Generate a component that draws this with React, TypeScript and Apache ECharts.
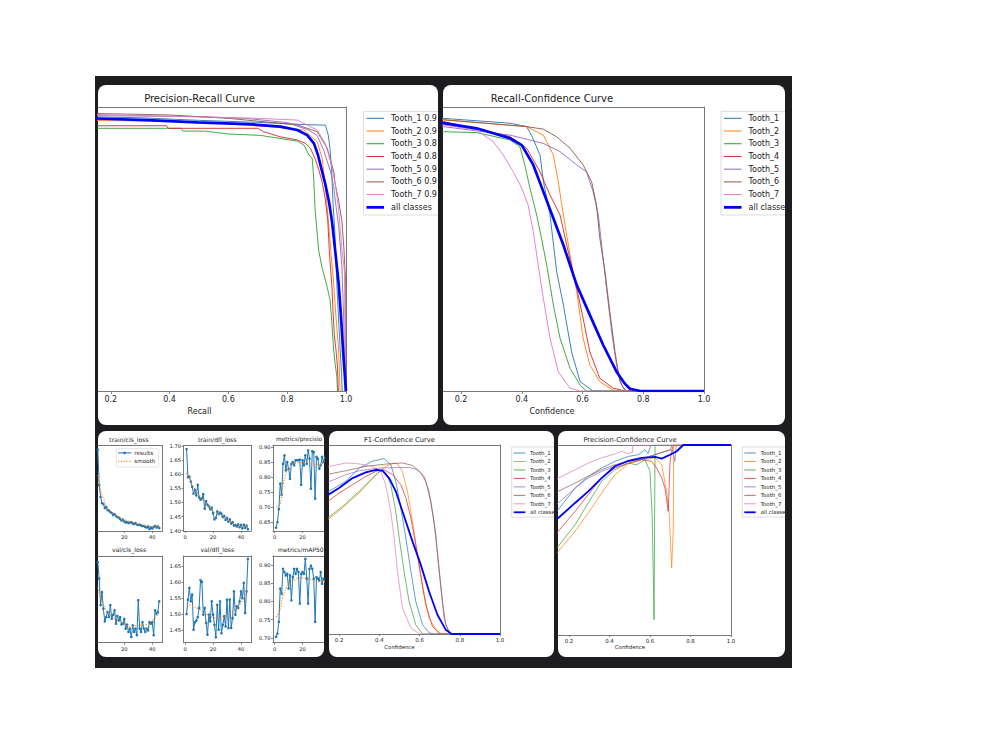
import React, { useEffect, useRef } from "react";
import * as echarts from "echarts";

// ---------------- data ----------------
const CLASS_NAMES = ["Tooth_1", "Tooth_2", "Tooth_3", "Tooth_4", "Tooth_5", "Tooth_6", "Tooth_7"];
const CLASS_COLORS = ["#1f77b4", "#ff7f0e", "#2ca02c", "#d62728", "#9467bd", "#8c564b", "#e377c2"];
const ALL_COLOR = "#0000ff";
const PR_LEGEND = ["Tooth_1 0.9", "Tooth_2 0.9", "Tooth_3 0.8", "Tooth_4 0.8", "Tooth_5 0.9", "Tooth_6 0.9", "Tooth_7 0.9", "all classes"];
const CONF_LEGEND = ["Tooth_1", "Tooth_2", "Tooth_3", "Tooth_4", "Tooth_5", "Tooth_6", "Tooth_7", "all classe"];

const CURVE_TICKS = [0.2, 0.4, 0.6, 0.8, 1.0];
const EPOCH_TICKS_FULL = [0, 20, 40];
const EPOCH_TICKS_LEFT = [20, 40];
const EPOCH_TICKS_RIGHT = [0, 20];
const TRAIN_DFL_TICKS = [1.4, 1.45, 1.5, 1.55, 1.6, 1.65, 1.7];
const PRECISION_TICKS = [0.65, 0.7, 0.75, 0.8, 0.85, 0.9];
const VAL_DFL_TICKS = [1.45, 1.5, 1.55, 1.6, 1.65];
const MAP50_TICKS = [0.7, 0.75, 0.8, 0.85, 0.9];

// Precision-Recall  [recall, precision]
const PR_TOOTH_1 = [[0, 1], [0.1, 0.966], [0.3, 0.962], [0.5, 0.953], [0.7, 0.946], [0.8, 0.941], [0.86, 0.938], [0.93, 0.936], [0.94, 0.9], [0.946, 0.85], [0.952, 0.76], [0.956, 0.66], [0.962, 0.56], [0.966, 0.45], [0.97, 0.35], [0.975, 0.25], [0.98, 0.15], [0.985, 0.06], [0.987, 0]];
const PR_TOOTH_2 = [[0, 1], [0.1, 0.953], [0.4, 0.95], [0.6, 0.94], [0.75, 0.93], [0.857, 0.919], [0.902, 0.878], [0.919, 0.82], [0.93, 0.72], [0.94, 0.6], [0.948, 0.5], [0.958, 0.38], [0.966, 0.26], [0.975, 0.144], [0.98, 0]];
const PR_TOOTH_3 = [[0, 1], [0.1, 0.925], [0.44, 0.925], [0.445, 0.915], [0.52, 0.915], [0.6, 0.905], [0.71, 0.9], [0.74, 0.895], [0.834, 0.88], [0.857, 0.866], [0.874, 0.831], [0.885, 0.82], [0.89, 0.75], [0.895, 0.637], [0.907, 0.496], [0.918, 0.438], [0.935, 0.37], [0.946, 0.32], [0.952, 0.239], [0.958, 0.144], [0.963, 0.097], [0.969, 0.05], [0.971, 0]];
const PR_TOOTH_4 = [[0, 1], [0.1, 0.934], [0.39, 0.934], [0.395, 0.925], [0.7, 0.925], [0.72, 0.913], [0.776, 0.895], [0.834, 0.884], [0.862, 0.872], [0.879, 0.855], [0.896, 0.815], [0.907, 0.78], [0.918, 0.74], [0.929, 0.68], [0.938, 0.6], [0.944, 0.48], [0.952, 0.37], [0.956, 0.28], [0.96, 0.2], [0.966, 0.144], [0.971, 0.086], [0.974, 0]];
const PR_TOOTH_5 = [[0, 1], [0.1, 0.97], [0.5, 0.966], [0.66, 0.96], [0.8, 0.945], [0.87, 0.92], [0.902, 0.9], [0.925, 0.845], [0.948, 0.77], [0.958, 0.72], [0.966, 0.65], [0.975, 0.58], [0.986, 0.44], [0.992, 0.26], [0.995, 0.1], [0.997, 0]];
const PR_TOOTH_6 = [[0, 1], [0.1, 0.978], [0.4, 0.972], [0.6, 0.96], [0.834, 0.937], [0.902, 0.913], [0.936, 0.855], [0.959, 0.77], [0.963, 0.73], [0.975, 0.67], [0.986, 0.6], [0.993, 0.5], [0.999, 0.38], [1.0, 0]];
const PR_TOOTH_7 = [[0, 1], [0.1, 0.975], [0.5, 0.965], [0.7, 0.96], [0.834, 0.954], [0.902, 0.919], [0.93, 0.87], [0.95, 0.8], [0.965, 0.72], [0.975, 0.64], [0.986, 0.5], [0.995, 0.42], [0.997, 0.1], [0.998, 0]];
const PR_ALL = [[0, 1], [0.1, 0.961], [0.323, 0.954], [0.494, 0.946], [0.664, 0.94], [0.777, 0.931], [0.834, 0.919], [0.868, 0.901], [0.891, 0.872], [0.905, 0.83], [0.917, 0.78], [0.929, 0.731], [0.942, 0.667], [0.952, 0.6], [0.963, 0.496], [0.975, 0.379], [0.983, 0.262], [0.99, 0.144], [0.997, 0.04], [1.0, 0]];

// Recall-Confidence  [confidence, recall]
const RC_TOOTH_1 = [[0.1, 0.965], [0.142, 0.96], [0.361, 0.943], [0.416, 0.931], [0.432, 0.901], [0.46, 0.831], [0.471, 0.74], [0.493, 0.62], [0.515, 0.42], [0.537, 0.303], [0.564, 0.138], [0.592, 0.033], [0.635, 0], [1, 0]];
const RC_TOOTH_2 = [[0.1, 0.96], [0.142, 0.955], [0.416, 0.931], [0.471, 0.901], [0.504, 0.831], [0.52, 0.737], [0.537, 0.62], [0.559, 0.479], [0.581, 0.35], [0.602, 0.186], [0.624, 0.092], [0.657, 0.033], [0.701, 0.003], [0.72, 0], [1, 0]];
const RC_TOOTH_3 = [[0.1, 0.915], [0.142, 0.913], [0.251, 0.91], [0.361, 0.884], [0.394, 0.86], [0.41, 0.796], [0.427, 0.714], [0.449, 0.62], [0.465, 0.538], [0.482, 0.444], [0.504, 0.303], [0.526, 0.186], [0.559, 0.08], [0.592, 0.021], [0.613, 0], [1, 0]];
const RC_TOOTH_4 = [[0.1, 0.955], [0.142, 0.949], [0.361, 0.896], [0.416, 0.855], [0.46, 0.772], [0.493, 0.69], [0.526, 0.62], [0.548, 0.514], [0.581, 0.362], [0.602, 0.256], [0.624, 0.138], [0.657, 0.045], [0.701, 0.01], [0.74, 0], [1, 0]];
const RC_TOOTH_5 = [[0.1, 0.935], [0.142, 0.931], [0.361, 0.901], [0.471, 0.872], [0.526, 0.843], [0.581, 0.796], [0.613, 0.772], [0.635, 0.702], [0.652, 0.62], [0.663, 0.514], [0.679, 0.362], [0.696, 0.209], [0.712, 0.092], [0.729, 0.021], [0.745, 0], [1, 0]];
const RC_TOOTH_6 = [[0.1, 0.96], [0.142, 0.955], [0.416, 0.931], [0.471, 0.922], [0.515, 0.895], [0.559, 0.855], [0.602, 0.796], [0.63, 0.737], [0.646, 0.655], [0.657, 0.538], [0.674, 0.42], [0.69, 0.279], [0.707, 0.138], [0.723, 0.033], [0.74, 0], [1, 0]];
const RC_TOOTH_7 = [[0.1, 0.945], [0.142, 0.937], [0.251, 0.919], [0.306, 0.878], [0.339, 0.831], [0.372, 0.772], [0.4, 0.714], [0.421, 0.655], [0.438, 0.561], [0.454, 0.444], [0.471, 0.326], [0.493, 0.186], [0.52, 0.068], [0.559, 0.01], [0.59, 0], [1, 0]];
const RC_ALL = [[0.1, 0.955], [0.142, 0.943], [0.251, 0.925], [0.361, 0.89], [0.4, 0.866], [0.438, 0.796], [0.471, 0.702], [0.504, 0.608], [0.537, 0.514], [0.581, 0.373], [0.624, 0.268], [0.668, 0.162], [0.712, 0.068], [0.74, 0.025], [0.756, 0.008], [0.79, 0], [1, 0]];

// F1-Confidence  [confidence, F1]
const F1_TOOTH_1 = [[0.1, 0.72], [0.134, 0.746], [0.234, 0.808], [0.3, 0.878], [0.366, 0.914], [0.424, 0.928], [0.457, 0.896], [0.482, 0.808], [0.507, 0.667], [0.532, 0.508], [0.557, 0.332], [0.581, 0.173], [0.615, 0.049], [0.647, 0.007], [0.67, 0], [1, 0]];
const F1_TOOTH_2 = [[0.1, 0.57], [0.134, 0.596], [0.217, 0.667], [0.3, 0.746], [0.383, 0.843], [0.432, 0.887], [0.474, 0.905], [0.49, 0.9], [0.515, 0.861], [0.54, 0.755], [0.565, 0.596], [0.59, 0.42], [0.615, 0.243], [0.647, 0.085], [0.681, 0.023], [0.71, 0], [1, 0]];
const F1_TOOTH_3 = [[0.1, 0.58], [0.134, 0.605], [0.217, 0.675], [0.3, 0.755], [0.366, 0.825], [0.399, 0.857], [0.416, 0.864], [0.432, 0.852], [0.457, 0.79], [0.482, 0.649], [0.499, 0.508], [0.523, 0.332], [0.548, 0.173], [0.581, 0.049], [0.615, 0], [1, 0]];
const F1_TOOTH_4 = [[0.1, 0.67], [0.134, 0.693], [0.2, 0.746], [0.267, 0.79], [0.333, 0.834], [0.383, 0.861], [0.424, 0.869], [0.466, 0.843], [0.507, 0.79], [0.532, 0.72], [0.557, 0.614], [0.581, 0.473], [0.606, 0.314], [0.631, 0.155], [0.664, 0.041], [0.7, 0], [1, 0]];
const F1_TOOTH_5 = [[0.1, 0.78], [0.134, 0.799], [0.234, 0.843], [0.3, 0.864], [0.399, 0.878], [0.548, 0.882], [0.59, 0.869], [0.623, 0.834], [0.647, 0.755], [0.672, 0.596], [0.689, 0.42], [0.706, 0.243], [0.722, 0.085], [0.747, 0], [1, 0]];
const F1_TOOTH_6 = [[0.1, 0.835], [0.134, 0.843], [0.234, 0.864], [0.333, 0.887], [0.432, 0.899], [0.515, 0.905], [0.565, 0.892], [0.606, 0.852], [0.631, 0.808], [0.656, 0.702], [0.681, 0.525], [0.697, 0.349], [0.714, 0.173], [0.73, 0.049], [0.755, 0], [1, 0]];
const F1_TOOTH_7 = [[0.1, 0.87], [0.134, 0.882], [0.234, 0.905], [0.3, 0.9], [0.366, 0.887], [0.407, 0.861], [0.432, 0.79], [0.457, 0.649], [0.474, 0.508], [0.49, 0.332], [0.515, 0.138], [0.557, 0.032], [0.6, 0], [1, 0]];
const F1_ALL = [[0.1, 0.7], [0.134, 0.729], [0.2, 0.772], [0.267, 0.825], [0.333, 0.855], [0.383, 0.869], [0.416, 0.864], [0.449, 0.825], [0.482, 0.755], [0.515, 0.649], [0.565, 0.49], [0.606, 0.367], [0.647, 0.226], [0.689, 0.102], [0.73, 0.023], [0.76, 0], [1, 0]];

// Precision-Confidence  [confidence, precision]
const PC_TOOTH_1 = [[0.14, 0.65], [0.147, 0.66], [0.23, 0.773], [0.295, 0.835], [0.361, 0.879], [0.427, 0.914], [0.493, 0.94], [0.542, 0.949], [0.575, 0.975], [0.59, 0.955], [0.605, 1.0], [1, 1]];
const PC_TOOTH_2 = [[0.14, 0.43], [0.147, 0.44], [0.23, 0.546], [0.295, 0.642], [0.361, 0.747], [0.427, 0.844], [0.493, 0.9], [0.559, 0.923], [0.625, 0.932], [0.658, 0.896], [0.682, 0.756], [0.695, 0.633], [0.707, 0.353], [0.715, 0.563], [0.717, 1.0], [1, 1]];
const PC_TOOTH_3 = [[0.14, 0.46], [0.147, 0.467], [0.23, 0.58], [0.295, 0.695], [0.361, 0.809], [0.427, 0.87], [0.493, 0.905], [0.534, 0.896], [0.575, 0.923], [0.6, 0.861], [0.611, 0.616], [0.62, 0.081], [0.625, 1.0], [1, 1]];
const PC_TOOTH_4 = [[0.14, 0.535], [0.147, 0.546], [0.23, 0.651], [0.295, 0.739], [0.361, 0.826], [0.427, 0.879], [0.493, 0.905], [0.559, 0.923], [0.608, 0.914], [0.633, 0.879], [0.658, 0.826], [0.674, 0.774], [0.69, 0.651], [0.699, 0.914], [0.707, 0.967], [0.715, 1.0], [1, 1]];
const PC_TOOTH_5 = [[0.14, 0.69], [0.147, 0.695], [0.23, 0.773], [0.295, 0.826], [0.361, 0.861], [0.427, 0.888], [0.493, 0.914], [0.559, 0.93], [0.625, 0.949], [0.69, 0.97], [0.71, 0.975], [0.723, 0.914], [0.73, 1.0], [1, 1]];
const PC_TOOTH_6 = [[0.14, 0.75], [0.147, 0.756], [0.23, 0.8], [0.295, 0.835], [0.361, 0.87], [0.427, 0.896], [0.493, 0.914], [0.559, 0.923], [0.625, 0.949], [0.674, 0.967], [0.699, 0.975], [0.71, 1.0], [1, 1]];
const PC_TOOTH_7 = [[0.14, 0.82], [0.147, 0.826], [0.23, 0.87], [0.295, 0.905], [0.361, 0.932], [0.427, 0.953], [0.46, 0.967], [0.49, 0.955], [0.513, 0.96], [0.515, 1.0], [1, 1]];
const PC_ALL = [[0.14, 0.61], [0.147, 0.616], [0.23, 0.695], [0.295, 0.756], [0.361, 0.826], [0.427, 0.888], [0.493, 0.917], [0.559, 0.932], [0.625, 0.937], [0.658, 0.928], [0.699, 0.949], [0.732, 0.967], [0.764, 1.0], [1, 1]];

// Training results (epochs 1..45)
const EPOCHS = [1, 2, 3, 4, 5, 6, 7, 8, 9, 10, 11, 12, 13, 14, 15, 16, 17, 18, 19, 20, 21, 22, 23, 24, 25, 26, 27, 28, 29, 30, 31, 32, 33, 34, 35, 36, 37, 38, 39, 40, 41, 42, 43, 44, 45];
const TRAIN_CLS_LOSS = [1.69, 1.194, 1.026, 0.942, 0.928, 0.872, 0.886, 0.844, 0.837, 0.816, 0.802, 0.774, 0.788, 0.76, 0.746, 0.739, 0.718, 0.697, 0.711, 0.683, 0.669, 0.676, 0.662, 0.669, 0.676, 0.655, 0.648, 0.662, 0.641, 0.634, 0.641, 0.627, 0.62, 0.62, 0.606, 0.599, 0.613, 0.578, 0.599, 0.585, 0.606, 0.62, 0.599, 0.613, 0.592];
const TRAIN_CLS_SMOOTH = [[1, 1.334], [2.8, 1.142], [5.2, 1.002], [7.6, 0.886], [12.4, 0.792], [19.6, 0.714], [26.7, 0.666], [33.9, 0.63], [41, 0.606], [45, 0.604]];
const TRAIN_DFL_LOSS = [1.69, 1.59, 1.592, 1.575, 1.556, 1.532, 1.545, 1.525, 1.563, 1.518, 1.51, 1.515, 1.53, 1.478, 1.505, 1.492, 1.486, 1.476, 1.482, 1.462, 1.44, 1.445, 1.468, 1.458, 1.464, 1.46, 1.448, 1.452, 1.438, 1.445, 1.432, 1.44, 1.425, 1.43, 1.418, 1.42, 1.415, 1.422, 1.412, 1.42, 1.408, 1.421, 1.41, 1.418, 1.405];
const TRAIN_DFL_SMOOTH = [[1, 1.605], [3, 1.585], [5, 1.565], [8, 1.538], [10, 1.524], [13, 1.506], [16, 1.49], [20, 1.468], [25, 1.455], [30, 1.44], [35, 1.425], [40, 1.416], [45, 1.412]];
const PRECISION = [0.631, 0.65, 0.693, 0.778, 0.741, 0.844, 0.872, 0.822, 0.85, 0.828, 0.794, 0.844, 0.85, 0.839, 0.856, 0.856, 0.856, 0.858, 0.774, 0.856, 0.839, 0.872, 0.844, 0.889, 0.861, 0.761, 0.886, 0.883, 0.728, 0.867, 0.861, 0.828, 0.839, 0.867, 0.85, 0.87];
const PRECISION_SMOOTH = [[1, 0.7], [4, 0.711], [6, 0.772], [9, 0.822], [13, 0.844], [18, 0.848], [23, 0.85], [28, 0.842], [32.5, 0.84], [36, 0.856]];
const VAL_CLS_LOSS = [1.415, 1.319, 1.166, 1.242, 1.146, 1.073, 1.098, 1.127, 1.098, 1.166, 1.088, 1.111, 1.137, 1.06, 1.104, 1.079, 1.098, 1.056, 1.06, 1.088, 1.031, 1.054, 1.012, 1.031, 0.983, 1.05, 1.012, 1.031, 0.993, 1.195, 1.031, 1.012, 1.069, 1.031, 1.012, 1.031, 1.021, 1.069, 1.06, 1.069, 0.993, 1.137, 1.117, 1.127, 1.189];
const VAL_CLS_SMOOTH = [[1, 1.27], [5, 1.166], [10, 1.11], [15, 1.078], [20, 1.058], [24, 1.041], [29, 1.05], [34, 1.052], [38.5, 1.069], [45, 1.12]];
const VAL_DFL_LOSS = [1.5, 1.545, 1.582, 1.54, 1.561, 1.451, 1.474, 1.479, 1.49, 1.519, 1.606, 1.601, 1.498, 1.519, 1.472, 1.435, 1.498, 1.477, 1.54, 1.498, 1.466, 1.427, 1.529, 1.451, 1.54, 1.44, 1.466, 1.493, 1.461, 1.545, 1.456, 1.545, 1.456, 1.487, 1.571, 1.498, 1.524, 1.519, 1.54, 1.571, 1.55, 1.598, 1.503, 1.571, 1.673];
const VAL_DFL_SMOOTH = [[1, 1.532], [5, 1.525], [10, 1.515], [15, 1.5], [20, 1.49], [25, 1.488], [30, 1.495], [35, 1.51], [40, 1.535], [45, 1.575]];
const MAP50 = [0.703, 0.712, 0.744, 0.835, 0.821, 0.889, 0.88, 0.871, 0.875, 0.835, 0.871, 0.803, 0.866, 0.889, 0.875, 0.889, 0.88, 0.794, 0.875, 0.88, 0.875, 0.916, 0.862, 0.794, 0.889, 0.898, 0.889, 0.862, 0.744, 0.866, 0.862, 0.857, 0.88, 0.848, 0.862, 0.85];
const MAP50_SMOOTH = [[1, 0.757], [4, 0.78], [6, 0.815], [9, 0.84], [13, 0.855], [18, 0.864], [23, 0.864], [28, 0.857], [32.5, 0.853], [36, 0.855]];

// ---------------- styling / layout ----------------
const FONT = "DejaVu Sans";
const DARK = "#1d1d1f";
const SPINE = "#6a6a6a";
const TEXT = "#222222";

type GridSpec = {
  left: number; top: number; right: number; bottom: number;
  xMin: number; xMax: number; yMin: number; yMax: number;
  xTicks: number[]; yTicks: number[]; xDigits: number; yDigits: number;
  spines: [boolean, boolean, boolean, boolean]; // top, right, bottom, left
  font: number; tickLen: number; xMargin: number; yMargin: number;
};

function buildOption() {
  const big = { font: 8, tickLen: 3, xMargin: 4.5, yMargin: 3 };
  const mid = { font: 5.4, tickLen: 2, xMargin: 3, yMargin: 2.5 };
  const small = { font: 5.2, tickLen: 2, xMargin: 3.5, yMargin: 2.5 };
  const r1t = 445.3, r1b = 531, r2t = 556, r2b = 642.7;
  const specs: GridSpec[] = [
    // 0 PR
    { left: 98, top: 107, right: 346, bottom: 391, xMin: 0.1566, xMax: 1, yMin: 0, yMax: 1, xTicks: CURVE_TICKS, yTicks: [], xDigits: 1, yDigits: 1, spines: [true, true, true, false], ...big },
    // 1 RC
    { left: 443, top: 107, right: 704, bottom: 391, xMin: 0.1407, xMax: 1, yMin: 0, yMax: 1, xTicks: CURVE_TICKS, yTicks: [], xDigits: 1, yDigits: 1, spines: [true, true, true, false], ...big },
    // 2 train/cls_loss
    { left: 97.5, top: r1t, right: 162.3, bottom: r1b, xMin: 0.79, xMax: 47.2, yMin: 0.55, yMax: 1.75, xTicks: EPOCH_TICKS_LEFT, yTicks: [], xDigits: 0, yDigits: 2, spines: [true, true, true, false], ...small },
    // 3 train/dfl_loss
    { left: 183.5, top: r1t, right: 251, bottom: r1b, xMin: -1.2, xMax: 47.2, yMin: 1.3986, yMax: 1.7035, xTicks: EPOCH_TICKS_FULL, yTicks: TRAIN_DFL_TICKS, xDigits: 0, yDigits: 2, spines: [true, true, true, true], ...small },
    // 4 metrics/precision
    { left: 273, top: r1t, right: 324, bottom: r1b, xMin: -1.2, xMax: 35.37, yMin: 0.62, yMax: 0.9057, xTicks: EPOCH_TICKS_RIGHT, yTicks: PRECISION_TICKS, xDigits: 0, yDigits: 2, spines: [true, false, true, true], ...small },
    // 5 val/cls_loss
    { left: 97.5, top: r2t, right: 162.3, bottom: r2b, xMin: 0.79, xMax: 47.2, yMin: 0.95, yMax: 1.45, xTicks: EPOCH_TICKS_LEFT, yTicks: [], xDigits: 0, yDigits: 2, spines: [true, true, true, false], ...small },
    // 6 val/dfl_loss
    { left: 183.5, top: r2t, right: 251, bottom: r2b, xMin: -1.2, xMax: 47.2, yMin: 1.41, yMax: 1.682, xTicks: EPOCH_TICKS_FULL, yTicks: VAL_DFL_TICKS, xDigits: 0, yDigits: 2, spines: [true, true, true, true], ...small },
    // 7 metrics/mAP50
    { left: 273, top: r2t, right: 324, bottom: r2b, xMin: -1.2, xMax: 35.37, yMin: 0.687, yMax: 0.924, xTicks: EPOCH_TICKS_RIGHT, yTicks: MAP50_TICKS, xDigits: 0, yDigits: 2, spines: [true, false, true, true], ...small },
    // 8 F1
    { left: 329, top: 445, right: 500, bottom: 634, xMin: 0.15, xMax: 1, yMin: 0, yMax: 1, xTicks: CURVE_TICKS, yTicks: [], xDigits: 1, yDigits: 1, spines: [true, true, true, false], ...mid },
    // 9 PC
    { left: 558, top: 445, right: 731, bottom: 635, xMin: 0.1457, xMax: 1, yMin: 0, yMax: 1, xTicks: CURVE_TICKS, yTicks: [], xDigits: 1, yDigits: 1, spines: [true, true, true, false], ...mid },
  ];

  const grid: any[] = [];
  const xAxis: any[] = [];
  const yAxis: any[] = [];
  const ax: { x: number; y: number }[] = [];
  specs.forEach((s, g) => {
    grid.push({ left: s.left, top: s.top, width: s.right - s.left, height: s.bottom - s.top, containLabel: false, show: false });
    const line = (show: boolean) => ({ show, onZero: false, lineStyle: { color: SPINE, width: 0.9 } });
    const tick = (t: number[]) => t.length ? { show: true, customValues: t, length: s.tickLen, lineStyle: { color: SPINE, width: 0.8 } } : { show: false };
    const label = (t: number[], d: number, m: number) => t.length ? {
      show: true, customValues: t, formatter: (v: any) => Number(v).toFixed(d),
      fontSize: s.font, fontFamily: FONT, color: TEXT, margin: m,
    } : { show: false };
    const base = { type: "value", gridIndex: g, splitLine: { show: false }, axisPointer: { show: false } };
    ax.push({ x: xAxis.length, y: yAxis.length });
    xAxis.push({ ...base, position: "bottom", min: s.xMin, max: s.xMax, axisLine: line(s.spines[2]), axisTick: tick(s.xTicks), axisLabel: label(s.xTicks, s.xDigits, s.xMargin) });
    xAxis.push({ ...base, position: "top", min: s.xMin, max: s.xMax, axisLine: line(s.spines[0]), axisTick: { show: false }, axisLabel: { show: false } });
    yAxis.push({ ...base, position: "left", min: s.yMin, max: s.yMax, axisLine: line(s.spines[3]), axisTick: tick(s.yTicks), axisLabel: label(s.yTicks, s.yDigits, s.yMargin) });
    yAxis.push({ ...base, position: "right", min: s.yMin, max: s.yMax, axisLine: line(s.spines[1]), axisTick: { show: false }, axisLabel: { show: false } });
  });

  const series: any[] = [];
  const curve = (g: number, data: number[][], color: string, width: number, name: string) => ({
    type: "line", name, xAxisIndex: ax[g].x, yAxisIndex: ax[g].y, data, symbol: "none", showSymbol: false,
    lineStyle: { color, width }, itemStyle: { color }, silent: true, clip: true, z: 2,
  });
  const curveSets: [number, number[][][], number[][], number, number][] = [
    [0, [PR_TOOTH_1, PR_TOOTH_2, PR_TOOTH_3, PR_TOOTH_4, PR_TOOTH_5, PR_TOOTH_6, PR_TOOTH_7], PR_ALL, 0.9, 2.7],
    [1, [RC_TOOTH_1, RC_TOOTH_2, RC_TOOTH_3, RC_TOOTH_4, RC_TOOTH_5, RC_TOOTH_6, RC_TOOTH_7], RC_ALL, 0.9, 2.7],
    [8, [F1_TOOTH_1, F1_TOOTH_2, F1_TOOTH_3, F1_TOOTH_4, F1_TOOTH_5, F1_TOOTH_6, F1_TOOTH_7], F1_ALL, 0.7, 1.8],
    [9, [PC_TOOTH_1, PC_TOOTH_2, PC_TOOTH_3, PC_TOOTH_4, PC_TOOTH_5, PC_TOOTH_6, PC_TOOTH_7], PC_ALL, 0.7, 1.8],
  ];
  curveSets.forEach(([g, cls, all, w, wa]) => {
    cls.forEach((d, i) => series.push(curve(g, d, CLASS_COLORS[i], w, CLASS_NAMES[i])));
    series.push(curve(g, all, ALL_COLOR, wa, "all classes"));
  });

  const resultSets: [number, number[], number[][]][] = [
    [2, TRAIN_CLS_LOSS, TRAIN_CLS_SMOOTH],
    [3, TRAIN_DFL_LOSS, TRAIN_DFL_SMOOTH],
    [4, PRECISION, PRECISION_SMOOTH],
    [5, VAL_CLS_LOSS, VAL_CLS_SMOOTH],
    [6, VAL_DFL_LOSS, VAL_DFL_SMOOTH],
    [7, MAP50, MAP50_SMOOTH],
  ];
  resultSets.forEach(([g, vals, smooth]) => {
    series.push({
      type: "line", name: "results", xAxisIndex: ax[g].x, yAxisIndex: ax[g].y,
      data: vals.map((v, i) => [EPOCHS[i], v]), symbol: "circle", symbolSize: 2.6, showSymbol: true,
      lineStyle: { color: "#1f77b4", width: 1 }, itemStyle: { color: "#1f77b4" }, silent: true, clip: true, z: 2,
    });
    series.push({
      type: "line", name: "smooth", xAxisIndex: ax[g].x, yAxisIndex: ax[g].y, data: smooth, smooth: 0.4,
      symbol: "none", showSymbol: false, lineStyle: { color: "#ff7f0e", width: 1.1, type: [1.2, 1.6] },
      silent: true, clip: true, z: 3,
    });
  });

  // ---------- graphic: background, panels, titles, legends ----------
  const graphic: any[] = [];
  graphic.push({ type: "rect", shape: { x: 95, y: 76, width: 697, height: 592 }, style: { fill: DARK }, z: -10, silent: true });
  const panels = [[98, 85, 340, 340], [443, 85, 342, 340], [98, 431, 226, 226], [329, 431, 225, 226], [558, 431, 227, 226]];
  panels.forEach(([x, y, w, h]) => graphic.push({ type: "rect", shape: { x, y, width: w, height: h, r: 8 }, style: { fill: "#ffffff" }, z: -9, silent: true }));

  const text = (t: string, x: number, y: number, size: number, align = "center") => ({
    type: "text", x, y, z: 10, silent: true,
    style: { text: t, fill: TEXT, fontSize: size, fontFamily: FONT, textAlign: align, textVerticalAlign: "middle", verticalAlign: "middle" },
  });
  graphic.push(text("Precision-Recall Curve", 199.5, 98.7, 10));
  graphic.push(text("Recall", 199.5, 411, 8));
  graphic.push(text("Recall-Confidence Curve", 552, 98.7, 10));
  graphic.push(text("Confidence", 552, 411.3, 8));
  graphic.push(text("F1-Confidence Curve", 399.5, 440.3, 6.8));
  graphic.push(text("Confidence", 399.5, 647.3, 5.4));
  graphic.push(text("Precision-Confidence Curve", 630, 440.3, 6.8));
  graphic.push(text("Confidence", 630, 647.3, 5.4));
  graphic.push(text("train/cls_loss", 129, 439.3, 6.1));
  graphic.push(text("train/dfl_loss", 217.3, 439.3, 6.1));
  graphic.push(text("metrics/precisio", 276, 439.3, 5.8, "left"));
  graphic.push(text("val/cls_loss", 129, 549.3, 6.1));
  graphic.push(text("val/dfl_loss", 217.3, 549.3, 6.1));
  graphic.push(text("metrics/mAP50", 278, 549.3, 6.0, "left"));

  const legend = (boxL: number, boxR: number, top: number, bottom: number, l0: number, l1: number, tx: number, y0: number, dy: number,
    labels: string[], size: number, w: number, wa: number) => {
    graphic.push({
      type: "polyline", z: 9, silent: true,
      shape: { points: [[boxR, top], [boxL, top], [boxL, bottom], [boxR, bottom]] },
      style: { stroke: "#d4d4d4", lineWidth: 0.8, fill: null },
    });
    labels.forEach((lab, i) => {
      const y = y0 + i * dy;
      const isAll = i === labels.length - 1;
      graphic.push({
        type: "line", z: 10, silent: true, shape: { x1: l0, y1: y, x2: l1, y2: y },
        style: { stroke: isAll ? ALL_COLOR : CLASS_COLORS[i], lineWidth: isAll ? wa : w },
      });
      graphic.push(text(lab, tx, y, size, "left"));
    });
  };
  legend(363.5, 438, 111.5, 215, 366.5, 384, 391, 118.3, 12.72, PR_LEGEND, 8, 1, 2.8);
  legend(721, 785, 111.5, 215, 724, 741.5, 748.5, 118.3, 12.72, CONF_LEGEND, 8, 1, 2.8);
  legend(511.7, 554, 447, 517, 513.7, 525.3, 530, 453, 8.47, CONF_LEGEND, 5.4, 0.8, 1.8);
  legend(742.3, 785, 447, 517, 744.3, 755.7, 760.7, 453, 8.47, CONF_LEGEND, 5.4, 0.8, 1.8);

  // results legend inside train/cls_loss
  graphic.push({ type: "rect", z: 9, silent: true, shape: { x: 116.3, y: 448.7, width: 42.4, height: 18.3, r: 1.5 }, style: { fill: "rgba(255,255,255,0.85)", stroke: "#d4d4d4", lineWidth: 0.6 } });
  graphic.push({ type: "line", z: 10, silent: true, shape: { x1: 118, y1: 452.9, x2: 131.3, y2: 452.9 }, style: { stroke: "#1f77b4", lineWidth: 1 } });
  graphic.push({ type: "circle", z: 10, silent: true, shape: { cx: 124.6, cy: 452.9, r: 1.3 }, style: { fill: "#1f77b4" } });
  graphic.push(text("results", 134.3, 452.9, 5.6, "left"));
  graphic.push({ type: "line", z: 10, silent: true, shape: { x1: 118, y1: 461.4, x2: 131.3, y2: 461.4 }, style: { stroke: "#ff7f0e", lineWidth: 1.1, lineDash: [1.2, 1.6] } });
  graphic.push(text("smooth", 134.3, 461.4, 5.6, "left"));

  return {
    animation: false,
    backgroundColor: "#ffffff",
    grid, xAxis, yAxis, series, graphic,
    tooltip: { show: false },
  };
}

export default function App() {
  const ref = useRef<HTMLDivElement>(null);
  useEffect(() => {
    if (!ref.current) return;
    const chart = echarts.init(ref.current, null, { renderer: "svg" });
    chart.setOption(buildOption() as any);
    return () => chart.dispose();
  }, []);
  return <div ref={ref} style={{ position: "absolute", left: 0, top: 0, width: 1000, height: 750 }} />;
}
